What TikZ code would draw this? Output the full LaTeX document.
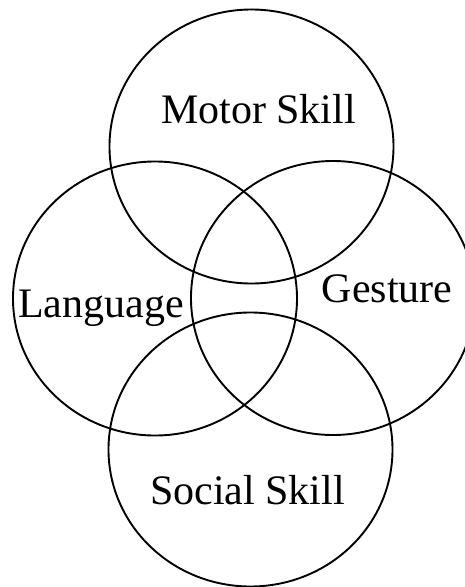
\documentclass[tikz,border=0pt]{standalone}
\usepackage{fontspec}
\setmainfont{Liberation Serif}
\usetikzlibrary{shapes.geometric}
\tikzset{
  venn/.style={draw=black, line width=1.9pt, ellipse, minimum width=284pt, minimum height=274pt, inner sep=0pt},
  lbl/.style={anchor=base, inner sep=0pt, font=\fontsize{42}{50}\selectfont}
}
\begin{document}
\begin{tikzpicture}[x=1pt, y=-1pt]
\useasboundingbox (0,0) rectangle (465,587);
\clip (0,0) rectangle (465,587);
\node[venn] (motor) at (251.5,146.5) {};
\node[venn] (lang) at (155,298.5) {};
\node[venn] (gest) at (333,298) {};
\node[venn] (social) at (250.5,449.5) {};
\node[lbl] (tmotor) at (258.5,123) {Motor Skill};
\node[lbl] (tlang) at (101,317) {Language};
\node[lbl] (tgest) at (387,302) {Gesture};
\node[lbl] (tsocial) at (247.5,504) {Social Skill};
\end{tikzpicture}
\end{document}
